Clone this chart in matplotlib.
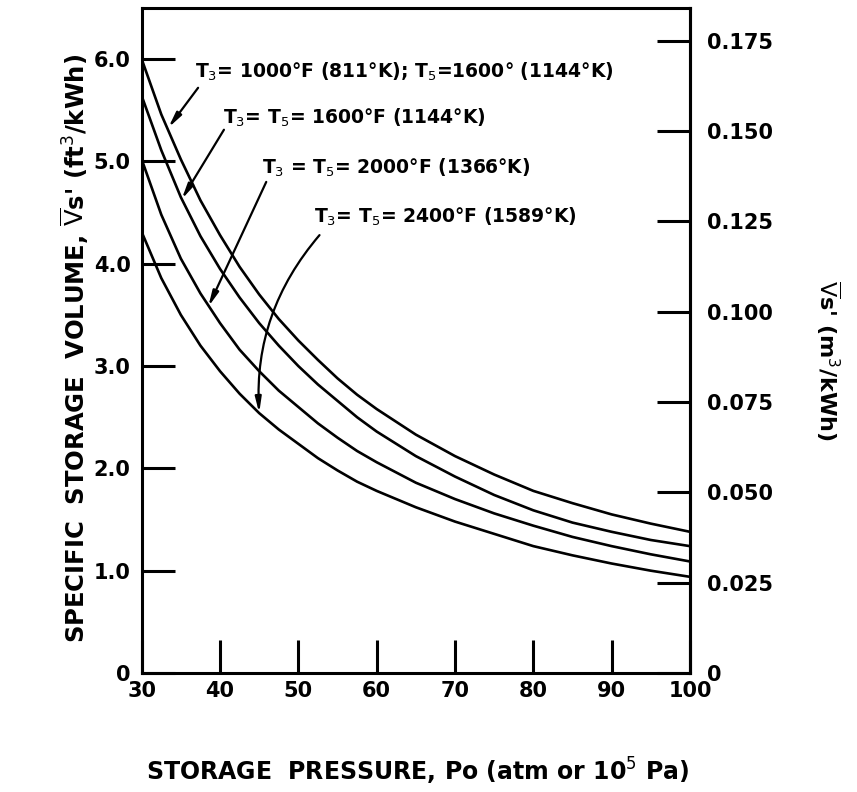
import matplotlib
matplotlib.use("Agg")
from matplotlib import pyplot as plt
import numpy as np

# storage pressure, atm
pressure = [30, 32.5, 35, 37.5, 40, 42.5, 45, 47.5, 50, 52.5, 55, 57.5, 60,
            65, 70, 75, 80, 85, 90, 95, 100]

# specific storage volume, ft3/kWh
vol_1000_1600 = [6.00, 5.46, 5.02, 4.62, 4.28, 3.97, 3.70, 3.46, 3.25, 3.06, 2.88, 2.72, 2.58,
                 2.33, 2.12, 1.94, 1.78, 1.66, 1.55, 1.46, 1.38]
vol_1600 = [5.64, 5.11, 4.65, 4.27, 3.95, 3.67, 3.42, 3.20, 3.00, 2.82, 2.66, 2.50, 2.36,
            2.12, 1.92, 1.74, 1.59, 1.47, 1.38, 1.30, 1.24]
vol_2000 = [5.02, 4.48, 4.05, 3.71, 3.42, 3.16, 2.95, 2.76, 2.60, 2.44, 2.30, 2.17, 2.06,
            1.86, 1.70, 1.56, 1.44, 1.33, 1.24, 1.16, 1.09]
vol_2400 = [4.31, 3.86, 3.50, 3.20, 2.95, 2.73, 2.54, 2.38, 2.24, 2.10, 1.98, 1.87, 1.78,
            1.62, 1.48, 1.36, 1.24, 1.15, 1.07, 1.00, 0.94]

labels = [r"T$_3$= 1000°F (811°K); T$_5$=1600° (1144°K)",
          r"T$_3$= T$_5$= 1600°F (1144°K)",
          r"T$_3$ = T$_5$= 2000°F (1366°K)",
          r"T$_3$= T$_5$= 2400°F (1589°K)"]
# label anchor (P, V), arrow tail, arrow tip
label_pos = [(36.8, 5.88), (40.4, 5.43), (45.4, 4.94), (52.0, 4.46)]
arrow_tail = [(37.2, 5.72), (40.5, 5.31), (45.9, 4.80), (52.7, 4.28)]
arrow_tip = [(33.4, 5.33), (35.1, 4.63), (38.5, 3.58), (45.0, 2.54)]
arrow_rad = [0.0, 0.0, 0.0, 0.2]

FT3_TO_M3 = 0.0283168
left_ticks = [0, 1, 2, 3, 4, 5, 6]
left_ticklabels = ["0", "1.0", "2.0", "3.0", "4.0", "5.0", "6.0"]
right_ticks = [0, 0.025, 0.05, 0.075, 0.1, 0.125, 0.15, 0.175]
right_ticklabels = ["0", "0.025", "0.050", "0.075", "0.100", "0.125", "0.150", "0.175"]
x_ticks = [30, 40, 50, 60, 70, 80, 90, 100]

W, H = 857, 792
fig = plt.figure(figsize=(W / 100, H / 100), dpi=100)
ax = fig.add_axes([141.7 / W, 1 - 673 / H, (690 - 141.7) / W, (673 - 8) / H])

for vol in [vol_1000_1600, vol_1600, vol_2000, vol_2400]:
    ax.plot(pressure, vol, color="black", lw=1.9, solid_capstyle="round", solid_joinstyle="round")

ax.set_xlim(30, 100)
ax.set_ylim(0, 6.5)
for s in ax.spines.values():
    s.set_linewidth(2.2)

tick_font = dict(family="DejaVu Sans", size=15, weight="bold")
ax.set_xticks(x_ticks)
ax.set_xticklabels([str(t) for t in x_ticks], fontdict=tick_font)
ax.set_yticks(left_ticks)
ax.set_yticklabels(left_ticklabels, fontdict=tick_font)
ax.tick_params(axis="both", direction="in", length=24, width=2.2)
ax.tick_params(axis="x", pad=6)
ax.tick_params(axis="y", pad=8)

sec = ax.secondary_yaxis("right", functions=(lambda v: v * FT3_TO_M3, lambda v: v / FT3_TO_M3))
sec.set_yticks(right_ticks)
sec.set_yticklabels(right_ticklabels, fontdict=tick_font)
sec.tick_params(direction="in", length=24, width=2.2, pad=12)
sec.spines["right"].set_linewidth(2.2)

for lab, lp, tail, tip, rad in zip(labels, label_pos, arrow_tail, arrow_tip, arrow_rad):
    ax.text(lp[0], lp[1], lab, fontsize=13.5, fontweight="bold", va="center", ha="left")
    ax.annotate("", xy=tip, xytext=tail,
                arrowprops=dict(arrowstyle="-|>,head_length=0.9,head_width=0.18",
                                color="black", lw=1.6, shrinkA=0, shrinkB=0,
                                connectionstyle="arc3,rad=%s" % rad))

fig.text(75 / W, 1 - 348 / H, r"SPECIFIC  STORAGE  VOLUME, $\overline{\mathrm{V}}$s' (ft$^3$/kWh)",
         rotation=90, ha="center", va="center", fontsize=17.5, fontweight="bold")
fig.text(828 / W, 1 - 360 / H, r"$\overline{\mathrm{V}}$s' (m$^3$/kWh)",
         rotation=270, ha="center", va="center", fontsize=16, fontweight="bold")
fig.text(418 / W, 1 - 771 / H, r"STORAGE  PRESSURE, Po (atm or 10$^5$ Pa)",
         ha="center", va="center", fontsize=17, fontweight="bold")

fig.savefig("out.png", dpi=100)
